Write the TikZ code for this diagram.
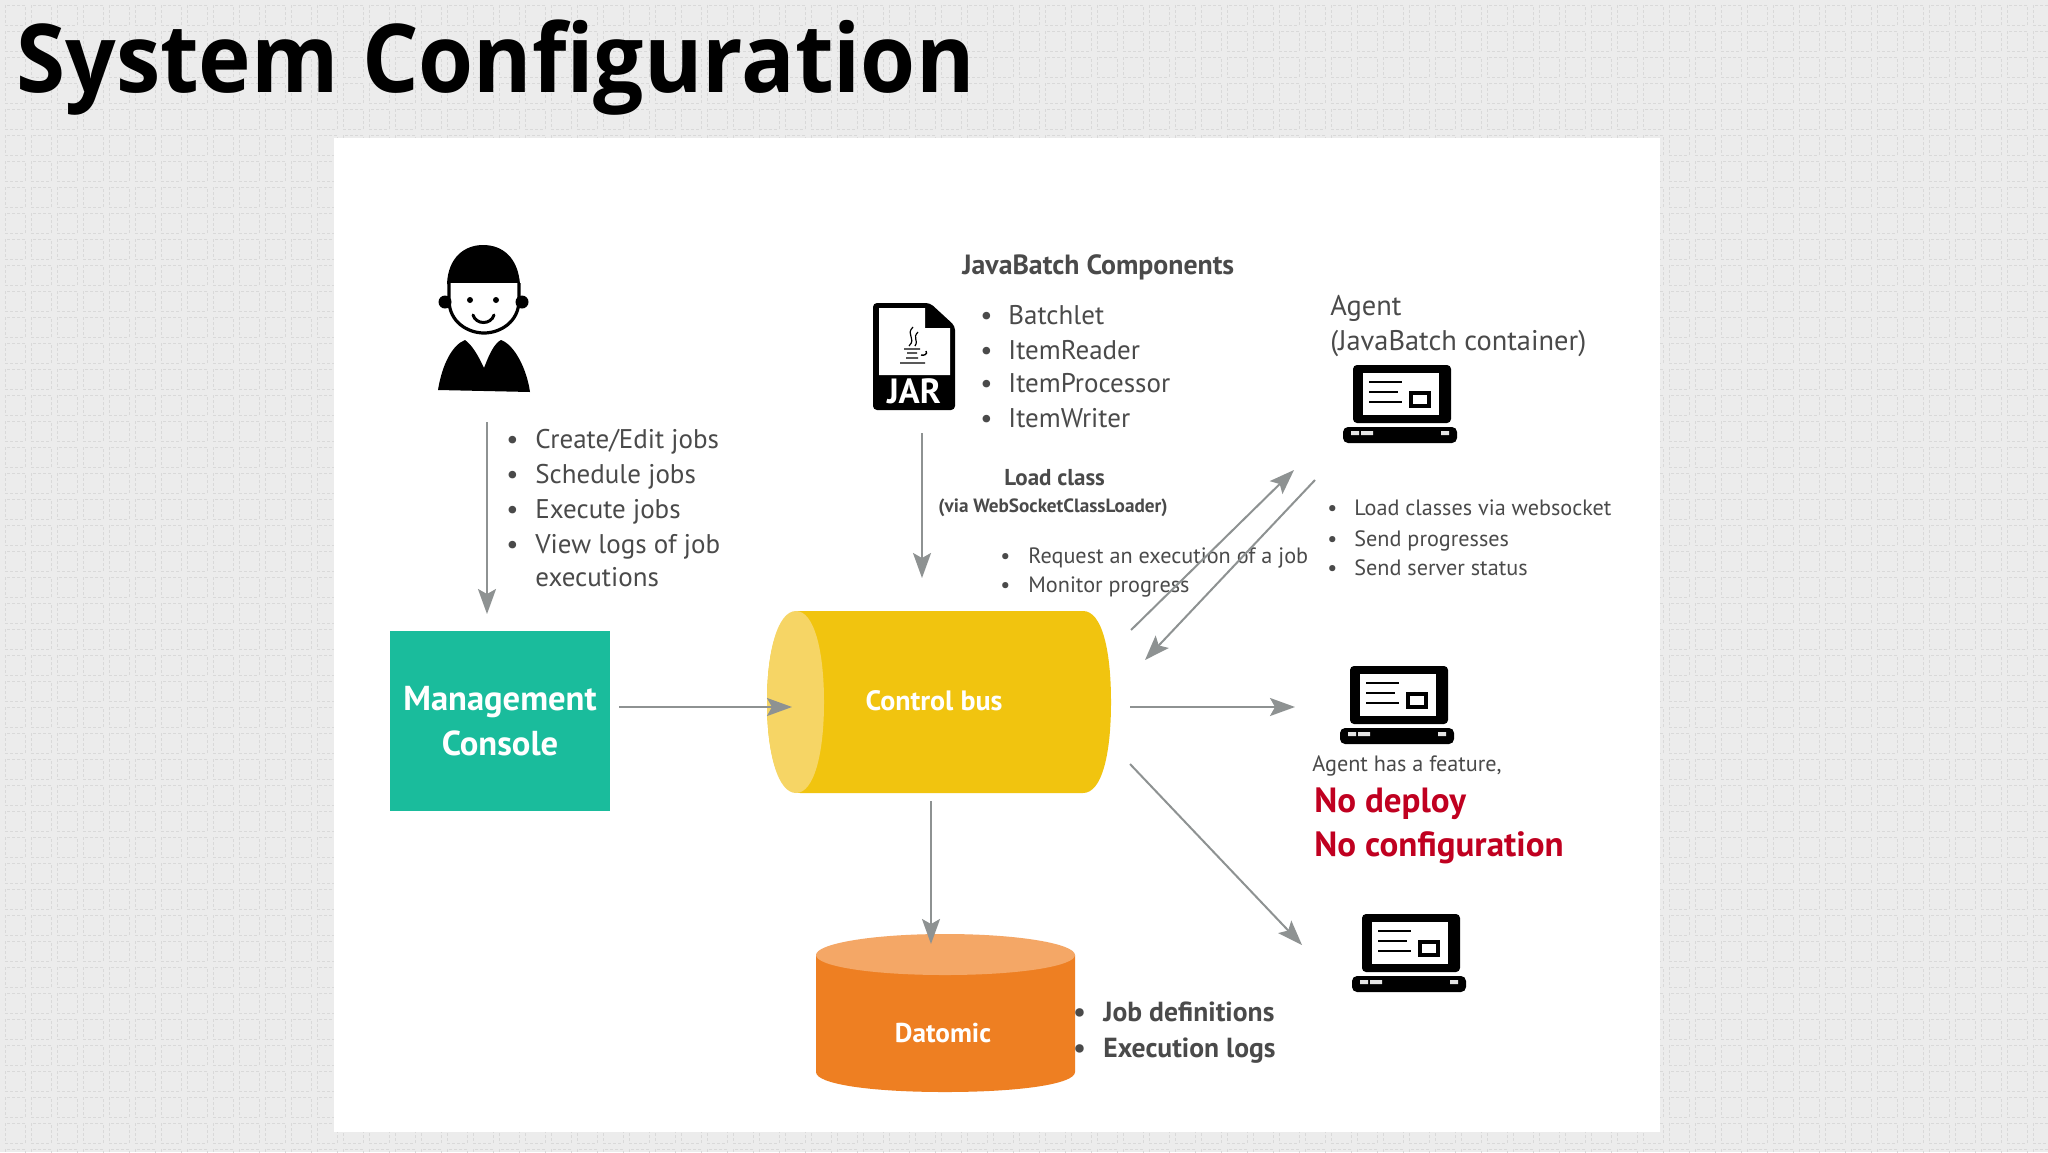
\documentclass[tikz,border=0pt]{standalone}
\usepackage{fontspec}
\setmainfont{PT Sans}
\newfontfamily\titlefont{Open Sans}
\usetikzlibrary{arrows.meta}
\definecolor{pagebg}{HTML}{ECECEC}
\definecolor{gridline}{HTML}{D9D9D9}
\definecolor{arrowgray}{HTML}{8E9292}
\definecolor{txt}{HTML}{4A4A4A}
\definecolor{teal}{HTML}{1ABC9C}
\definecolor{busy}{HTML}{F1C40F}
\definecolor{busl}{HTML}{F6D565}
\definecolor{orangeb}{HTML}{EE7F22}
\definecolor{orangel}{HTML}{F4A766}
\definecolor{redt}{HTML}{C00020}
\newcommand{\bul}[2]{\makebox[#1][l]{•}#2}
\newcommand{\laptopicon}[2]{%
 \begin{scope}[shift={(#1,#2)}]
  \fill[black,rounded corners=2pt] (1353,365) rectangle (1451,423);
  \fill[white] (1363,373) rectangle (1439,415);
  \draw[black,line width=1.4pt] (1369,382) -- (1402,382) (1369,392) -- (1398,392) (1369,402) -- (1402,402);
  \draw[black,line width=1.8pt] (1411,393) rectangle (1429,406);
  \fill[black,rounded corners=2.5pt] (1343,427) rectangle (1457,443);
  \fill[white!80!gray] (1351,431) rectangle (1359,435) (1361,431) rectangle (1373,435) (1441,431) rectangle (1449,435);
 \end{scope}}
\tikzset{
 conn/.style={draw=arrowgray,line width=1pt,-{Stealth[length=12.5pt,width=9pt,inset=2.5pt,fill=arrowgray]}},
 lab/.style={anchor=base west,inner sep=0pt,text=txt},
 big/.style={lab,font=\fontsize{13.5}{16}\selectfont},
 small/.style={lab,font=\fontsize{11.1}{13}\selectfont},
 strong/.style={lab,text=#1,font=\fontsize{17.5}{20}\selectfont\bfseries},
 strong/.default=txt,
 inbox/.style={inner sep=0pt,text=white,align=center}
}
\begin{document}
\begin{tikzpicture}[x=0.5pt,y=-0.5pt]
\useasboundingbox (0,0) rectangle (2048,1152);
\fill[pagebg] (0,0) rectangle (2048,1152);
\foreach \i in {0,...,78}{\foreach \j in {0,...,44}{
 \draw[gridline,line width=0.4pt,dash pattern=on 1.5pt off 1pt] ({5+26*\i},{5+26*\j}) rectangle ++(20,20);}}
\fill[white] (334,138) rectangle (1660,1132);
% title
\node[anchor=base west,inner sep=0pt,font=\titlefont\bfseries\fontsize{47.5}{56}\selectfont] (title) at (16,92) {\scalebox{.937}[1]{System Configuration}};
% person
\fill[black] (447,284) .. controls (448,258) and (464,245) .. (483,245) .. controls (503,245) and (518,258) .. (520,284) -- cycle;
\draw[black,line width=1.6pt,fill=white] (449,283) -- (449,300) .. controls (449,322) and (468,333) .. (484,333) .. controls (500,333) and (519,322) .. (519,300) -- (519,283);
\fill[black] (445,302) circle (6.5) (522,302) circle (6.5);
\fill[black] (470,300) circle (3) (496,300) circle (3);
\draw[black,line width=1.5pt,line cap=round] (473,315) .. controls (476,325) and (491,325) .. (494,315);
\fill[black] (438,390) .. controls (442,365) and (452,345) .. (465,340) .. controls (472,345) and (478,355) .. (484,368) .. controls (490,352) and (495,343) .. (501,340) .. controls (515,345) and (527,370) .. (530,392) -- cycle;
% jar
\fill[black,rounded corners=2pt] (873,303) -- (930,303) -- (955,326) -- (955,410) -- (873,410) -- cycle;
\fill[white] (879,308) -- (925,308) -- (925,328) -- (950,328) -- (950,375) -- (879,375) -- cycle;
\draw[black,line width=.6pt] (913,327) .. controls (905,335) and (917,338) .. (909,346);
\draw[black,line width=.6pt] (918,332) .. controls (912,338) and (919,340) .. (915,346);
\draw[black,line width=.7pt] (904,349) -- (920,349) (926,351) .. controls (928,354) and (924,356) .. (921,355) (907,353) -- (917,353) (906,358) -- (918,358) (900,363) -- (925,363);
\node[inner sep=0pt,text=white,font=\fontsize{17.5}{20}\selectfont\bfseries] (jarlabel) at (914,391) {JAR};
% laptops
\laptopicon{0}{0}
\laptopicon{-3}{301}
\laptopicon{9}{549}
% management console
\node[fill=teal,minimum width=110pt,minimum height=90pt,inner sep=0pt,text=white,font=\fontsize{17.3}{22.5}\selectfont\bfseries,align=center] (mgmt) at (500,721) {Management\\Console};
% control bus
\fill[busy] (800,611) -- (1083,611) .. controls (1102,611) and (1111,650) .. (1111,702) .. controls (1111,754) and (1102,793) .. (1083,793) -- (800,793) .. controls (778,793) and (767,754) .. (767,702) .. controls (767,650) and (778,611) .. (800,611) -- cycle;
\fill[busl] (796,611) .. controls (778,611) and (767,650) .. (767,702) .. controls (767,754) and (778,793) .. (796,793) .. controls (814,793) and (824,754) .. (824,702) .. controls (824,650) and (814,611) .. (796,611) -- cycle;
\node[inbox,font=\fontsize{14}{16}\selectfont\bfseries] (bus) at (934,701) {Control bus};
% datomic
\fill[orangeb] (816,955) -- (816,1072) .. controls (816,1084) and (870,1092) .. (945,1092) .. controls (1020,1092) and (1075,1084) .. (1075,1072) -- (1075,955) -- cycle;
\fill[orangel] (945,934) .. controls (1020,934) and (1075,944) .. (1075,955) .. controls (1075,966) and (1020,975) .. (945,975) .. controls (870,975) and (816,966) .. (816,955) .. controls (816,944) and (870,934) .. (945,934) -- cycle;
\node[inbox,font=\fontsize{13.6}{16}\selectfont\bfseries] (datomic) at (943,1033) {Datomic};
% connector ends
\coordinate (a1) at (487,422); \coordinate (a2) at (487,614);
\coordinate (b1) at (922,433); \coordinate (b2) at (922,578);
\coordinate (c1) at (619,707); \coordinate (c2) at (792,707);
\coordinate (d1) at (931,801); \coordinate (d2) at (931,944);
\coordinate (e1) at (1130,707); \coordinate (e2) at (1295,707);
\coordinate (f1) at (1130,764); \coordinate (f2) at (1302,945);
\coordinate (g1) at (1131,630); \coordinate (g2) at (1294,470);
\coordinate (h1) at (1315,480); \coordinate (h2) at (1145,660);
% texts
\node[lab,font=\fontsize{13.9}{16}\selectfont\bfseries] (jbc) at (962,274) {JavaBatch Components};
\node[big] (l1) at (980,324) {\bul{14pt}{Batchlet}};
\node[big] (l2) at (980,359) {\bul{14pt}{ItemReader}};
\node[big] (l3) at (980,392) {\bul{14pt}{ItemProcessor}};
\node[big] (l4) at (980,427) {\bul{14pt}{ItemWriter}};
\node[big] (m1) at (506,448) {\bul{14.5pt}{Create/Edit jobs}};
\node[big] (m2) at (506,483) {\bul{14.5pt}{Schedule jobs}};
\node[big] (m3) at (506,518) {\bul{14.5pt}{Execute jobs}};
\node[big] (m4) at (506,553) {\bul{14.5pt}{View logs of job}};
\node[big] (m5) at (535,586) {executions};
\node[lab,font=\fontsize{11.5}{13}\selectfont\bfseries] (lc1) at (1004,485) {Load class};
\node[lab,font=\fontsize{9.6}{12}\selectfont\bfseries] (lc2) at (938,512) {(via WebSocketClassLoader)};
\node[small] (r1) at (1000,563) {\bul{14pt}{Request an execution of a job}};
\node[small] (r2) at (1000,592) {\bul{14pt}{Monitor progress}};
\node[lab,font=\fontsize{14.2}{16}\selectfont] (ag1) at (1330,315) {Agent};
\node[lab,font=\fontsize{14.2}{16}\selectfont] (ag2) at (1330,350) {(JavaBatch container)};
\node[small] (s1) at (1327,515) {\bul{13.5pt}{Load classes via websocket}};
\node[small] (s2) at (1327,546) {\bul{13.5pt}{Send progresses}};
\node[small] (s3) at (1327,575) {\bul{13.5pt}{Send server status}};
\node[small] (af) at (1312,771) {Agent has a feature,};
\node[strong=redt] (nd) at (1314,812) {No deploy};
\node[strong=redt] (nc) at (1314,856) {No configuration};
\node[lab,font=\fontsize{13.8}{16}\selectfont\bfseries] (j1) at (1073,1021) {\bul{15pt}{Job definitions}};
\node[lab,font=\fontsize{13.8}{16}\selectfont\bfseries] (j2) at (1073,1057) {\bul{15pt}{Execution logs}};
% connectors
\draw[conn] (a1) -- (a2);
\draw[conn] (b1) -- (b2);
\draw[conn] (c1) -- (c2);
\draw[conn] (d1) -- (d2);
\draw[conn] (e1) -- (e2);
\draw[conn] (f1) -- (f2);
\draw[conn] (g1) -- (g2);
\draw[conn] (h1) -- (h2);
\end{tikzpicture}
\end{document}
